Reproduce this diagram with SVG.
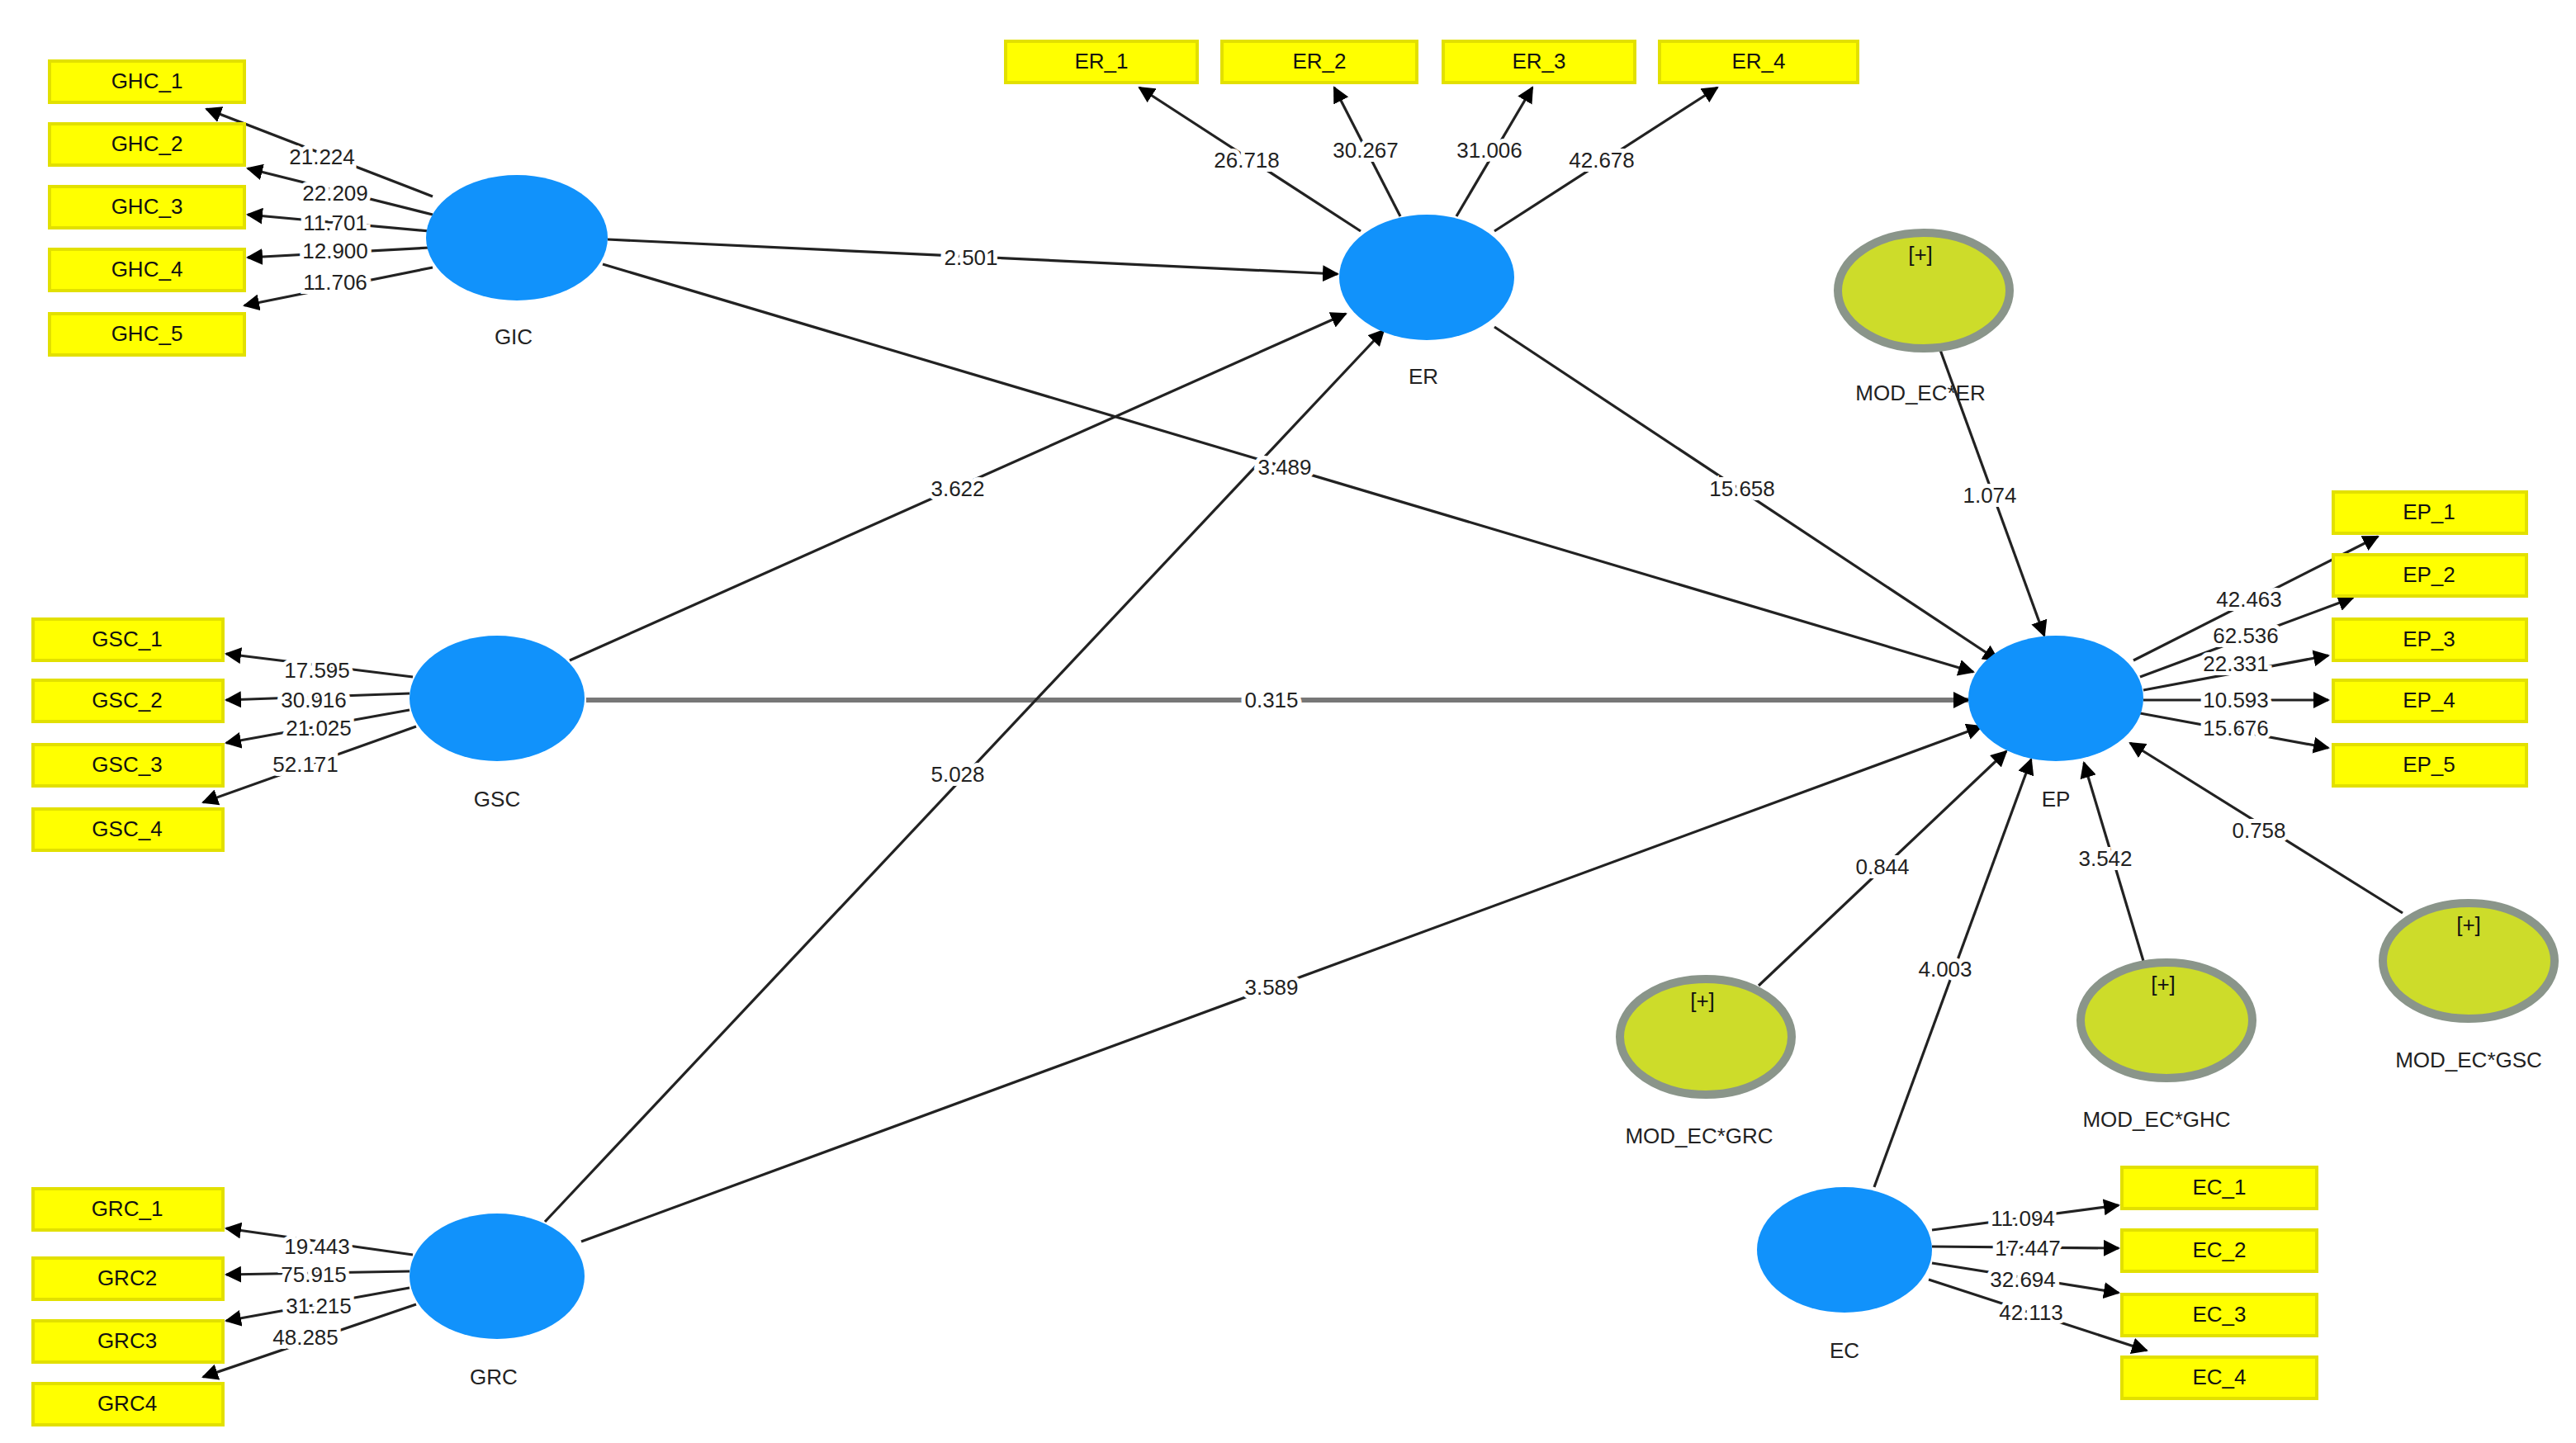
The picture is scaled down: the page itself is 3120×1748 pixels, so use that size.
<svg xmlns="http://www.w3.org/2000/svg" width="3120" height="1748" viewBox="0 0 3120 1748">
<defs>
<marker id="ah" markerWidth="10" markerHeight="10" refX="9" refY="5" orient="auto" markerUnits="userSpaceOnUse"><path d="M0,0 L10,5 L0,10 Z" fill="#000"/></marker>
<style>
.lv{fill:#1192fb}
.mod{fill:#cddc2a;stroke:#8a958a;stroke-width:5}
.box{fill:#ffff00;stroke:#e2e000;stroke-width:2}
.bt{font-family:"Liberation Sans",Arial,sans-serif;font-size:13px;fill:#111;text-anchor:middle;dominant-baseline:central}
.nl{font-family:"Liberation Sans",Arial,sans-serif;font-size:13px;fill:#222;text-anchor:middle;dominant-baseline:central}
.el{font-family:"Liberation Sans",Arial,sans-serif;font-size:13px;fill:#222;text-anchor:middle;dominant-baseline:central;stroke:#fff;stroke-width:5;paint-order:stroke}
.c{stroke:#222;stroke-width:1.6;fill:none;marker-end:url(#ah)}
.cg{stroke:#777;stroke-width:3;fill:none;marker-end:url(#ah)}
</style>
</defs>
<rect width="3120" height="1748" fill="#fff"/>
<g transform="scale(2)">
<g id="connectors">
<path class="c" d="M262,119 L125,66"/><path class="c" d="M262,130 L150,102"/><path class="c" d="M260,140 L150,130"/><path class="c" d="M260,150 L150,156"/><path class="c" d="M262,162 L148,185"/>
<path class="c" d="M250,410 L137,396"/><path class="c" d="M248,420 L137,424"/><path class="c" d="M248,430 L137,450"/><path class="c" d="M252,440 L123,486"/>
<path class="c" d="M250,760 L137,744"/><path class="c" d="M248,770 L137,772"/><path class="c" d="M248,780 L137,800"/><path class="c" d="M252,790 L123,834"/>
<path class="c" d="M824,140 L690,53"/><path class="c" d="M848,131 L808,53"/><path class="c" d="M882,131 L928,53"/><path class="c" d="M905,140 L1040,53"/>
<path class="c" d="M1292,400 L1440,325"/><path class="c" d="M1296,410 L1425,362"/><path class="c" d="M1298,418 L1410,397"/><path class="c" d="M1298,424 L1410,424"/><path class="c" d="M1296,432 L1410,453"/>
<path class="c" d="M1170,745 L1283,730"/><path class="c" d="M1170,755 L1283,756"/><path class="c" d="M1170,765 L1283,783"/><path class="c" d="M1168,775 L1300,818"/>
<path class="c" d="M368,145 L810,166"/>
<path class="c" d="M365,160 L1195,407"/>
<path class="c" d="M345,400 L815,190"/>
<path class="cg" d="M355,424 L1192,424"/>
<path class="c" d="M330,740 L838,200"/>
<path class="c" d="M352,752 L1200,440"/>
<path class="c" d="M905,198 L1210,400"/>
<path class="c" d="M1175,212 L1238,385"/>
<path class="c" d="M1065,597 L1215,455"/>
<path class="c" d="M1135,719 L1230,460"/>
<path class="c" d="M1298,582 L1262,462"/>
<path class="c" d="M1455,553 L1290,450"/>
<text class="el" x="195" y="95">21.224</text><text class="el" x="203" y="117">22.209</text><text class="el" x="203" y="135">11.701</text><text class="el" x="203" y="152">12.900</text><text class="el" x="203" y="171">11.706</text>
<text class="el" x="192" y="406">17.595</text><text class="el" x="190" y="424">30.916</text><text class="el" x="193" y="441">21.025</text><text class="el" x="185" y="463">52.171</text>
<text class="el" x="192" y="755">19.443</text><text class="el" x="190" y="772">75.915</text><text class="el" x="193" y="791">31.215</text><text class="el" x="185" y="810">48.285</text>
<text class="el" x="755" y="97">26.718</text><text class="el" x="827" y="91">30.267</text><text class="el" x="902" y="91">31.006</text><text class="el" x="970" y="97">42.678</text>
<text class="el" x="1362" y="363">42.463</text><text class="el" x="1360" y="385">62.536</text><text class="el" x="1354" y="402">22.331</text><text class="el" x="1354" y="424">10.593</text><text class="el" x="1354" y="441">15.676</text>
<text class="el" x="1225" y="738">11.094</text><text class="el" x="1228" y="756">17.447</text><text class="el" x="1225" y="775">32.694</text><text class="el" x="1230" y="795">42.113</text>
<text class="el" x="588" y="156">2.501</text><text class="el" x="778" y="283">3.489</text><text class="el" x="580" y="296">3.622</text><text class="el" x="770" y="424">0.315</text><text class="el" x="580" y="469">5.028</text><text class="el" x="770" y="598">3.589</text><text class="el" x="1055" y="296">15.658</text><text class="el" x="1205" y="300">1.074</text><text class="el" x="1140" y="525">0.844</text><text class="el" x="1178" y="587">4.003</text><text class="el" x="1275" y="520">3.542</text><text class="el" x="1368" y="503">0.758</text>
</g>
<g id="GIC"><ellipse class="lv" cx="313" cy="144" rx="55" ry="38"/><text class="nl" x="311" y="204">GIC</text></g>
<g id="ER"><ellipse class="lv" cx="864" cy="168" rx="53" ry="38"/><text class="nl" x="862" y="228">ER</text></g>
<g id="GSC"><ellipse class="lv" cx="301" cy="423" rx="53" ry="38"/><text class="nl" x="301" y="484">GSC</text></g>
<g id="GRC"><ellipse class="lv" cx="301" cy="773" rx="53" ry="38"/><text class="nl" x="299" y="834">GRC</text></g>
<g id="EP"><ellipse class="lv" cx="1245" cy="423" rx="53" ry="38"/><text class="nl" x="1245" y="484">EP</text></g>
<g id="EC"><ellipse class="lv" cx="1117" cy="757" rx="53" ry="38"/><text class="nl" x="1117" y="818">EC</text></g>
<g id="MOD_EC_ER"><ellipse class="mod" cx="1165" cy="176" rx="52" ry="35"/><text class="bt" x="1163" y="154">[+]</text><text class="nl" x="1163" y="238">MOD_EC*ER</text></g>
<g id="MOD_EC_GRC"><ellipse class="mod" cx="1033" cy="628" rx="52" ry="35"/><text class="bt" x="1031" y="606">[+]</text><text class="nl" x="1029" y="688">MOD_EC*GRC</text></g>
<g id="MOD_EC_GHC"><ellipse class="mod" cx="1312" cy="618" rx="52" ry="35"/><text class="bt" x="1310" y="596">[+]</text><text class="nl" x="1306" y="678">MOD_EC*GHC</text></g>
<g id="MOD_EC_GSC"><ellipse class="mod" cx="1495" cy="582" rx="52" ry="35"/><text class="bt" x="1495" y="560">[+]</text><text class="nl" x="1495" y="642">MOD_EC*GSC</text></g>
<g id="GHC_1"><rect class="box" x="30" y="37" width="118" height="25"/><text class="bt" x="89" y="49">GHC_1</text></g>
<g id="GHC_2"><rect class="box" x="30" y="75" width="118" height="25"/><text class="bt" x="89" y="87">GHC_2</text></g>
<g id="GHC_3"><rect class="box" x="30" y="113" width="118" height="25"/><text class="bt" x="89" y="125">GHC_3</text></g>
<g id="GHC_4"><rect class="box" x="30" y="151" width="118" height="25"/><text class="bt" x="89" y="163">GHC_4</text></g>
<g id="GHC_5"><rect class="box" x="30" y="190" width="118" height="25"/><text class="bt" x="89" y="202">GHC_5</text></g>
<g id="GSC_1"><rect class="box" x="20" y="375" width="115" height="25"/><text class="bt" x="77" y="387">GSC_1</text></g>
<g id="GSC_2"><rect class="box" x="20" y="412" width="115" height="25"/><text class="bt" x="77" y="424">GSC_2</text></g>
<g id="GSC_3"><rect class="box" x="20" y="451" width="115" height="25"/><text class="bt" x="77" y="463">GSC_3</text></g>
<g id="GSC_4"><rect class="box" x="20" y="490" width="115" height="25"/><text class="bt" x="77" y="502">GSC_4</text></g>
<g id="GRC_1"><rect class="box" x="20" y="720" width="115" height="25"/><text class="bt" x="77" y="732">GRC_1</text></g>
<g id="GRC2"><rect class="box" x="20" y="762" width="115" height="25"/><text class="bt" x="77" y="774">GRC2</text></g>
<g id="GRC3"><rect class="box" x="20" y="800" width="115" height="25"/><text class="bt" x="77" y="812">GRC3</text></g>
<g id="GRC4"><rect class="box" x="20" y="838" width="115" height="25"/><text class="bt" x="77" y="850">GRC4</text></g>
<g id="ER_1"><rect class="box" x="609" y="25" width="116" height="25"/><text class="bt" x="667" y="37">ER_1</text></g>
<g id="ER_2"><rect class="box" x="740" y="25" width="118" height="25"/><text class="bt" x="799" y="37">ER_2</text></g>
<g id="ER_3"><rect class="box" x="874" y="25" width="116" height="25"/><text class="bt" x="932" y="37">ER_3</text></g>
<g id="ER_4"><rect class="box" x="1005" y="25" width="120" height="25"/><text class="bt" x="1065" y="37">ER_4</text></g>
<g id="EP_1"><rect class="box" x="1413" y="298" width="117" height="25"/><text class="bt" x="1471" y="310">EP_1</text></g>
<g id="EP_2"><rect class="box" x="1413" y="336" width="117" height="25"/><text class="bt" x="1471" y="348">EP_2</text></g>
<g id="EP_3"><rect class="box" x="1413" y="375" width="117" height="25"/><text class="bt" x="1471" y="387">EP_3</text></g>
<g id="EP_4"><rect class="box" x="1413" y="412" width="117" height="25"/><text class="bt" x="1471" y="424">EP_4</text></g>
<g id="EP_5"><rect class="box" x="1413" y="451" width="117" height="25"/><text class="bt" x="1471" y="463">EP_5</text></g>
<g id="EC_1"><rect class="box" x="1285" y="707" width="118" height="25"/><text class="bt" x="1344" y="719">EC_1</text></g>
<g id="EC_2"><rect class="box" x="1285" y="745" width="118" height="25"/><text class="bt" x="1344" y="757">EC_2</text></g>
<g id="EC_3"><rect class="box" x="1285" y="784" width="118" height="25"/><text class="bt" x="1344" y="796">EC_3</text></g>
<g id="EC_4"><rect class="box" x="1285" y="822" width="118" height="25"/><text class="bt" x="1344" y="834">EC_4</text></g>
</g>
</svg>
